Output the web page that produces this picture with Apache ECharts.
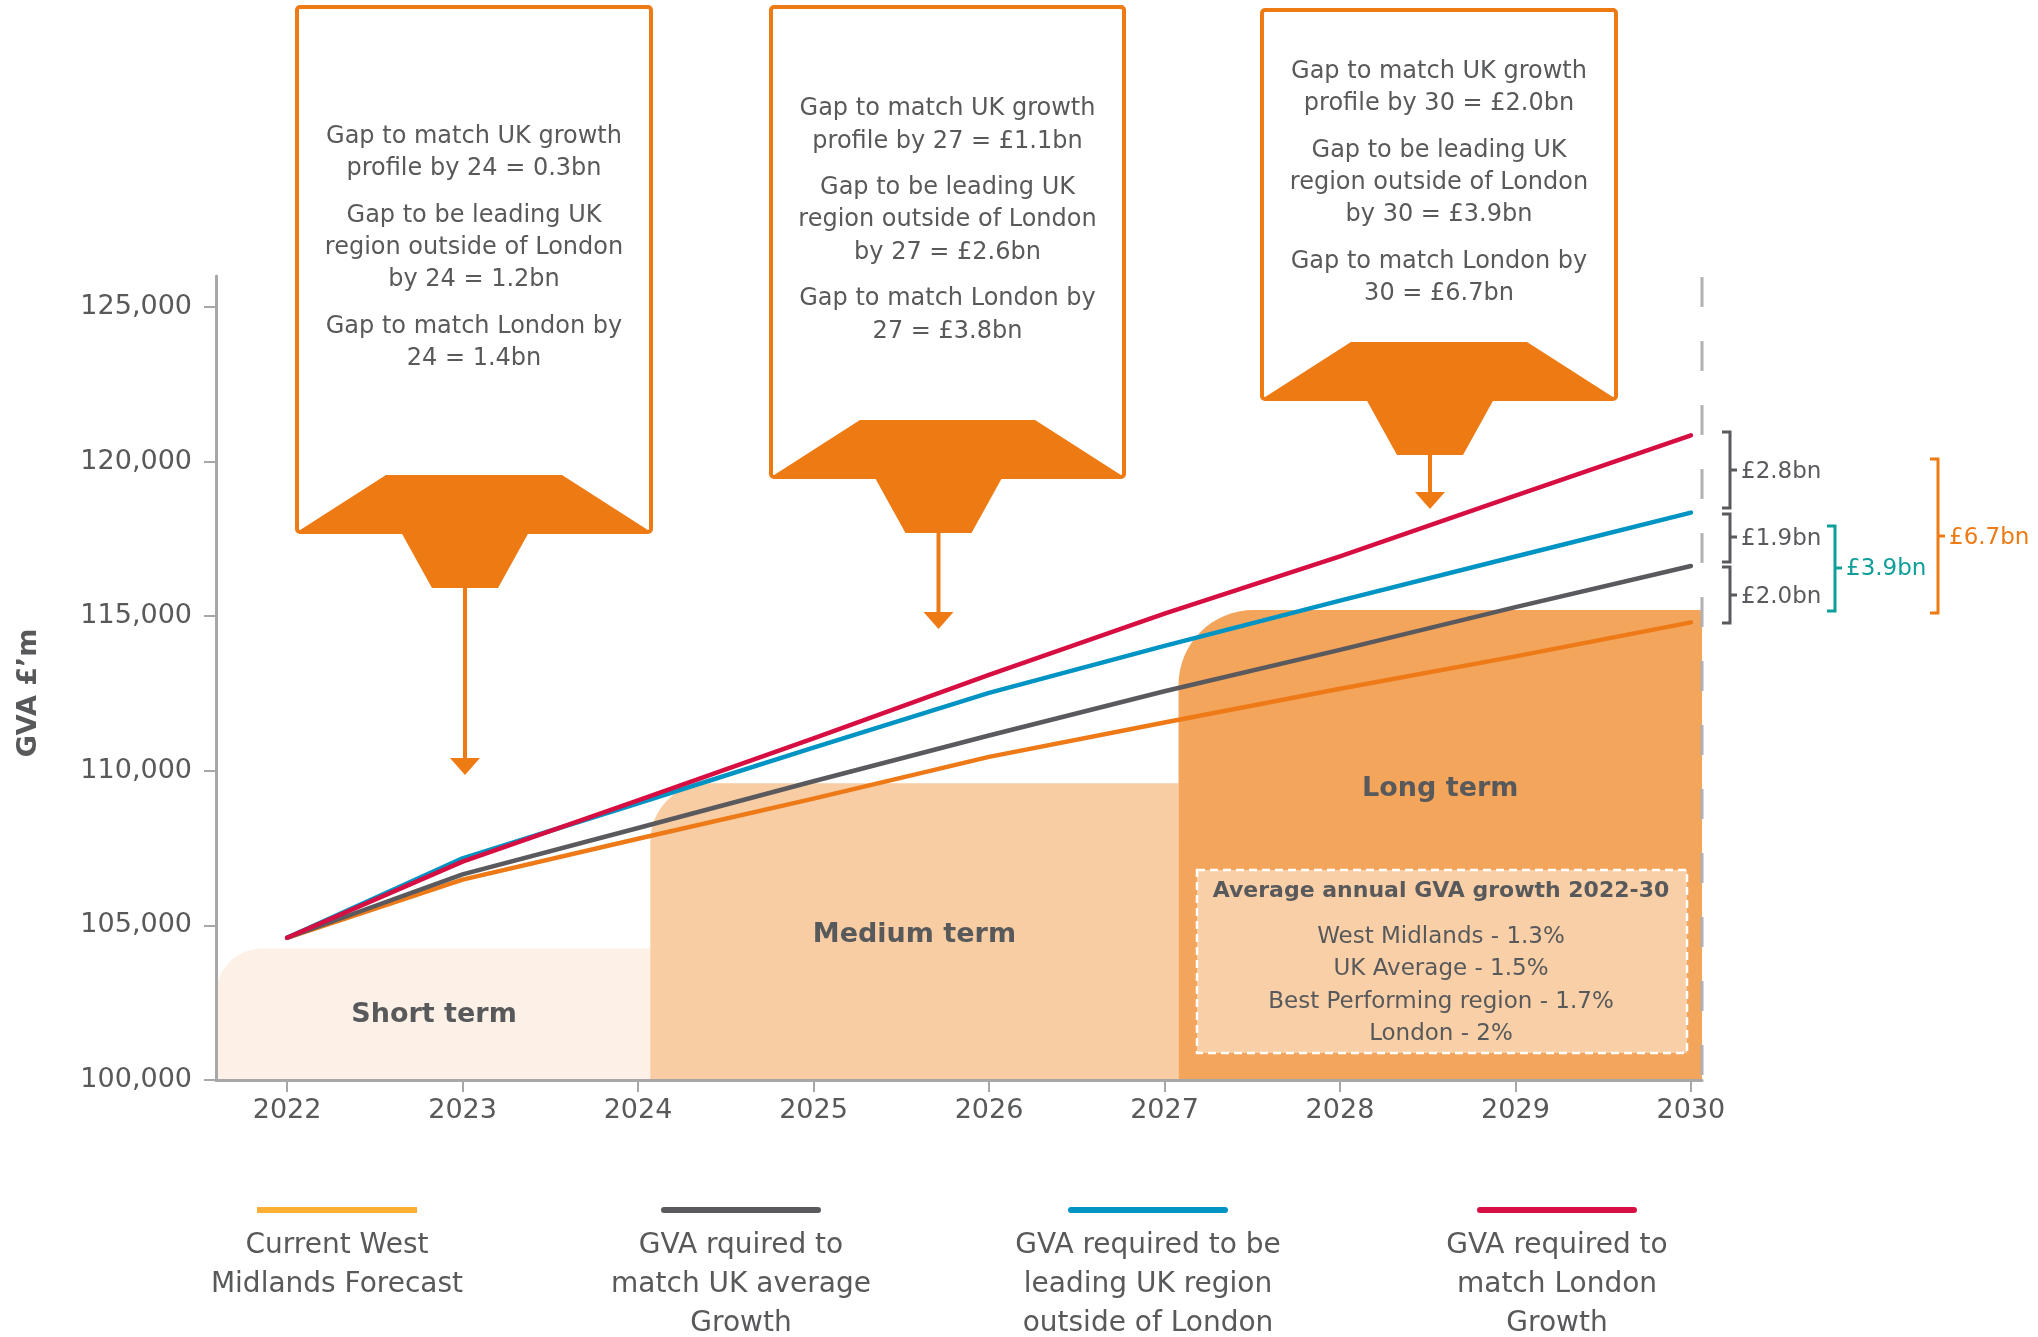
<!DOCTYPE html>
<html><head><meta charset="utf-8">
<script src="https://cdn.jsdelivr.net/npm/echarts@6/dist/echarts.min.js"></script>
<style>html,body{margin:0;padding:0;background:#fff}#chart{width:2038px;height:1337px}</style>
</head><body><div id="chart"></div>
<script>
// ---------- DATA ----------
const years = [2022, 2023, 2024, 2025, 2026, 2027, 2028, 2029, 2030];
const westMidlands  = [104600, 106480, 107800, 109100, 110450, 111560, 112650, 113700, 114800];
const ukAverage     = [104600, 106650, 108150, 109660, 111140, 112570, 113910, 115290, 116620];
const leadingRegion = [104600, 107170, 108950, 110750, 112520, 114040, 115500, 116930, 118350];
const london        = [104600, 107060, 109040, 111050, 113100, 115080, 116930, 118900, 120850];
const seriesNames = ['Current West Midlands Forecast', 'GVA rquired to match UK average Growth',
  'GVA required to be leading UK region outside of London', 'GVA required to match London Growth'];
const legendLabels = ['Current West\nMidlands Forecast', 'GVA rquired to\nmatch UK average\nGrowth',
  'GVA required to be\nleading UK region\noutside of London', 'GVA required to\nmatch London\nGrowth'];
const yTicks = [100000, 105000, 110000, 115000, 120000, 125000];
const xTicks = [2022, 2023, 2024, 2025, 2026, 2027, 2028, 2029, 2030];
const termNames = ['Short term', 'Medium term', 'Long term'];
const termStart = [2021.595, 2024.07, 2027.08];
const termEnd = [2024.08, 2027.08, 2030.063];
const termTop = [104250, 109600, 115200];
const termLabelY = [102100, 104700, 109400];
const gapLabels = ['£2.8bn', '£1.9bn', '£2.0bn', '£3.9bn', '£6.7bn'];
const callout24 = [['Gap to match UK growth', 'profile by 24 = 0.3bn'],
  ['Gap to be leading UK', 'region outside of London', 'by 24 = 1.2bn'],
  ['Gap to match London by', '24 = 1.4bn']];
const callout27 = [['Gap to match UK growth', 'profile by 27 = £1.1bn'],
  ['Gap to be leading UK', 'region outside of London', 'by 27 = £2.6bn'],
  ['Gap to match London by', '27 = £3.8bn']];
const callout30 = [['Gap to match UK growth', 'profile by 30 = £2.0bn'],
  ['Gap to be leading UK', 'region outside of London', 'by 30 = £3.9bn'],
  ['Gap to match London by', '30 = £6.7bn']];
const growthTitle = 'Average annual GVA growth 2022-30';
const growthLines = ['West Midlands - 1.3%', 'UK Average - 1.5%', 'Best Performing region - 1.7%', 'London - 2%'];
const yAxisTitle = 'GVA £’m';

// ---------- STYLE ----------
const FONT = '"DejaVu Sans", "Noto Sans", sans-serif';
const TXT = '#58595b';
const ORANGE = '#EE7A14';
const AXIS = '#a9a6a8';
const lineColors = ['#ED7A17', '#5a5a5e', '#0094C4', '#D60E42'];
const legendColors = ['#FBB034', '#5a5a5e', '#0094C4', '#D60E42'];
const termColors = ['#FDF1E7', '#F9CDA3', '#F4A55C'];
const termRadius = [46, 58, 75];

const chart = echarts.init(document.getElementById('chart'), null, {renderer: 'canvas'});

function callout(L, R, T, B, tipY, paras, y0) {
  const cx = (L + R) / 2, ax = cx - 9;
  const els = [
    {type: 'rect', shape: {x: L, y: T, width: R - L, height: B - T, r: 3}, style: {fill: '#fff', stroke: ORANGE, lineWidth: 4}},
    {type: 'polygon', shape: {points: [[L, B], [L + 89, B - 57], [R - 89, B - 57], [R, B]]}, style: {fill: ORANGE}},
    {type: 'polygon', shape: {points: [[ax - 64, B], [ax + 64, B], [ax + 33, B + 56], [ax - 33, B + 56]]}, style: {fill: ORANGE}},
    {type: 'line', shape: {x1: ax, y1: B + 54, x2: ax, y2: tipY - 15}, style: {stroke: ORANGE, lineWidth: 4}},
    {type: 'polygon', shape: {points: [[ax - 15, tipY - 17], [ax + 15, tipY - 17], [ax, tipY]]}, style: {fill: ORANGE}}
  ];
  let li = 0;
  paras.forEach((p, pi) => {
    p.forEach(line => {
      els.push({type: 'text', x: cx, y: y0 + li * 32.4 + pi * 14,
        style: {text: line, align: 'center', verticalAlign: 'middle', font: '24px ' + FONT, fill: TXT}});
      li++;
    });
  });
  return els;
}

function bracket(x, top, bottom, mid, color, label, textY) {
  return [
    {type: 'polyline', shape: {points: [[x - 8, top], [x, top], [x, bottom], [x - 8, bottom]]}, style: {stroke: color, lineWidth: 3, fill: null}},
    {type: 'line', shape: {x1: x, y1: mid, x2: x + 7, y2: mid}, style: {stroke: color, lineWidth: 3}},
    {type: 'text', x: x + 11, y: textY, style: {text: label, align: 'left', verticalAlign: 'middle', font: '23px ' + FONT, fill: color}}
  ];
}

const graphics = [];
graphics.push(...callout(297, 651, 7, 532, 775, callout24, 136.5));
graphics.push(...callout(771, 1124, 7, 477, 629, callout27, 109));
graphics.push(...callout(1262, 1616, 10, 399, 509, callout30, 71.5));
// right dashed marker line
graphics.push({type: 'line', shape: {x1: 1702, y1: 277, x2: 1702, y2: 1078}, style: {stroke: '#b2b0b2', lineWidth: 3, lineDash: [30, 34]}});
// y axis title
graphics.push({type: 'text', x: 29, y: 693, rotation: Math.PI / 2,
  style: {text: yAxisTitle, align: 'center', verticalAlign: 'middle', font: 'bold 27px ' + FONT, fill: TXT}});
// gap brackets
graphics.push(...bracket(1730, 432, 508, 470, '#5a5a5e', gapLabels[0], 472));
graphics.push(...bracket(1730, 514, 562, 537, '#5a5a5e', gapLabels[1], 539));
graphics.push(...bracket(1730, 567, 623, 595, '#5a5a5e', gapLabels[2], 597));
graphics.push(...bracket(1835, 526, 611, 568, '#0f9e99', gapLabels[3], 569));
graphics.push(...bracket(1938, 459, 613, 536, ORANGE, gapLabels[4], 538));
// growth box
graphics.push({type: 'rect', shape: {x: 1197, y: 870, width: 490, height: 183},
  style: {fill: '#F8CFA6', stroke: '#ffffff', lineWidth: 2.5, lineDash: [8, 5]}});
graphics.push({type: 'text', x: 1441, y: 891, style: {text: growthTitle, align: 'center', verticalAlign: 'middle', font: 'bold 22px ' + FONT, fill: TXT}});
growthLines.forEach((t, i) => {
  graphics.push({type: 'text', x: 1441, y: 937 + i * 32.3, style: {text: t, align: 'center', verticalAlign: 'middle', font: '23px ' + FONT, fill: TXT}});
});
// legend
const legendCenters = [337, 741, 1148, 1557];
legendLabels.forEach((t, i) => {
  const cx = legendCenters[i];
  graphics.push({type: 'rect', shape: {x: cx - 80, y: 1207, width: 160, height: 6, r: i === 0 ? 0 : 3}, style: {fill: legendColors[i]}});
  graphics.push({type: 'text', x: cx, y: 1226, style: {text: t, align: 'center', verticalAlign: 'top', lineHeight: 39, font: '28px ' + FONT, fill: TXT}});
});
graphics.forEach(g => { g.z = 100; g.silent = true; });

function mkLine(i, data) {
  return {
    name: seriesNames[i], type: 'line', z: 3 + i, showSymbol: false, symbol: 'none', smooth: false,
    data: years.map((y, k) => [y, data[k]]),
    lineStyle: {color: lineColors[i], width: 4.5, cap: 'round', join: 'round'},
    itemStyle: {color: lineColors[i]},
    emphasis: {disabled: true}
  };
}

const option = {
  animation: false,
  backgroundColor: '#ffffff',
  grid: {left: 216, right: 336, top: 276, bottom: 257, containLabel: false, outerBoundsMode: 'none'},
  xAxis: {
    type: 'value', min: 2021.595, max: 2030.063, z: 20,
    splitLine: {show: false},
    axisLine: {show: true, lineStyle: {color: AXIS, width: 3}},
    axisTick: {show: true, customValues: xTicks, length: 12, inside: false, lineStyle: {color: AXIS, width: 2}},
    axisLabel: {show: true, customValues: xTicks, formatter: v => String(Math.round(v)), fontSize: 27, fontFamily: FONT, color: TXT, margin: 17}
  },
  yAxis: {
    type: 'value', min: 100000, max: 126000, z: 20,
    splitLine: {show: false},
    axisLine: {show: true, lineStyle: {color: AXIS, width: 3}},
    axisTick: {show: true, customValues: yTicks, length: 12, inside: false, lineStyle: {color: AXIS, width: 2}},
    axisLabel: {show: true, customValues: yTicks, formatter: v => Math.round(v).toString().replace(/\B(?=(\d{3})+(?!\d))/g, ','),
      fontSize: 27, fontFamily: FONT, color: TXT, margin: 24}
  },
  series: [
    {
      type: 'custom', name: 'terms', z: 1, silent: true,
      data: termNames.map((n, i) => [termStart[i], termEnd[i], termTop[i], termLabelY[i]]),
      encode: {x: [0, 1], y: [2, 3]},
      renderItem: function (params, api) {
        const i = params.dataIndex;
        const p0 = api.coord([api.value(0), api.value(2)]);
        const p1 = api.coord([api.value(1), 100000]);
        const pl = api.coord([(api.value(0) + api.value(1)) / 2, api.value(3)]);
        return {type: 'group', children: [
          {type: 'rect', shape: {x: p0[0], y: p0[1], width: p1[0] - p0[0], height: p1[1] - p0[1], r: [termRadius[i], 0, 0, 0]},
            style: {fill: termColors[i]}},
          {type: 'text', x: pl[0], y: pl[1], style: {text: termNames[i], align: 'center', verticalAlign: 'middle',
            font: 'bold 27px ' + FONT, fill: TXT}}
        ]};
      }
    },
    mkLine(0, westMidlands),
    mkLine(1, ukAverage),
    mkLine(2, leadingRegion),
    mkLine(3, london)
  ],
  graphic: {elements: graphics}
};
chart.setOption(option);
</script></body></html>
